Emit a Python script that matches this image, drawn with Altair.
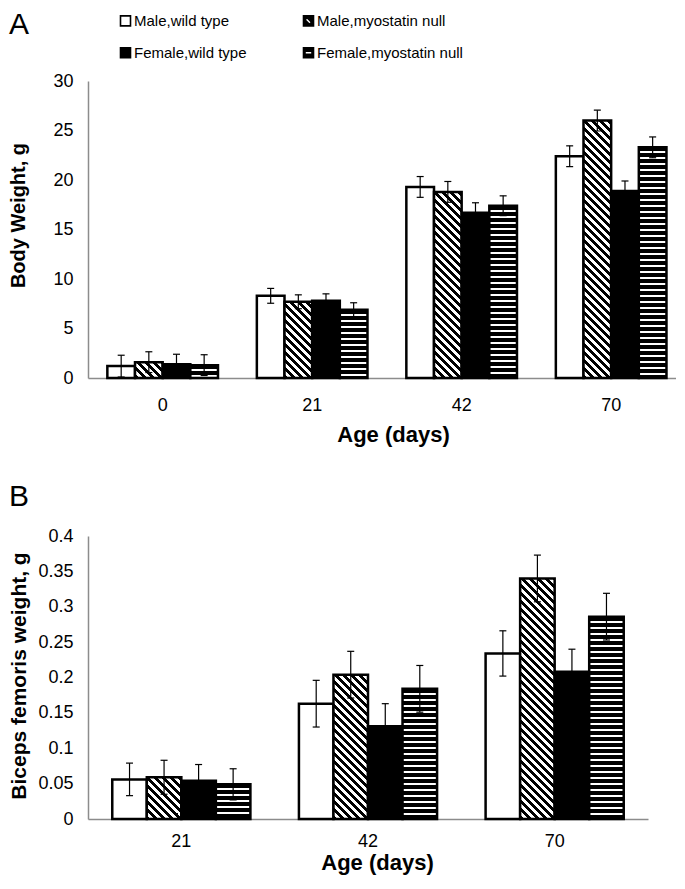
import math
import altair as alt
import pandas as pd

# ---------------- data ----------------
groups = ["Male,wild type", "Male,myostatin null", "Female,wild type", "Female,myostatin null"]

ages_a = ["0", "21", "42", "70"]
bw_male_wt = [1.2, 8.3, 19.3, 22.4]
bw_male_mn = [1.6, 7.7, 18.8, 26.0]
bw_fem_wt = [1.4, 7.8, 16.7, 18.9]
bw_fem_mn = [1.3, 6.9, 17.4, 23.3]
bw_err_male_wt = [1.1, 0.75, 1.05, 1.05]
bw_err_male_mn = [1.05, 0.7, 1.05, 1.05]
bw_err_fem_wt = [1.0, 0.7, 1.0, 1.0]
bw_err_fem_mn = [1.05, 0.7, 1.0, 1.05]

ages_b = ["21", "42", "70"]
bf_male_wt = [0.056, 0.163, 0.234]
bf_male_mn = [0.059, 0.204, 0.340]
bf_fem_wt = [0.054, 0.131, 0.208]
bf_fem_mn = [0.049, 0.184, 0.286]
bf_err_male_wt = [0.023, 0.033, 0.032]
bf_err_male_mn = [0.024, 0.033, 0.033]
bf_err_fem_wt = [0.023, 0.032, 0.032]
bf_err_fem_mn = [0.022, 0.033, 0.033]

FONT = "Liberation Sans"


def make_df(ages, series, errs):
    rows = []
    for g, vals, es in zip(groups, series, errs):
        for a, v, e in zip(ages, vals, es):
            rows.append({"age": a, "group": g, "mean": v, "err": e, "key": a + "|" + g})
    return pd.DataFrame(rows)


# ---------------- hatch patterns as hard-stop gradients ----------------
def hstripe(h, period=6.0, white=2.0):
    stops = []
    k = 0
    while k * period < h:
        a = k * period / h
        b = min((k * period + period - white) / h, 1.0)
        c = min((k + 1) * period / h, 1.0)
        stops += [{"offset": a, "color": "black"}, {"offset": b, "color": "black"},
                  {"offset": b, "color": "white"}, {"offset": c, "color": "white"}]
        k += 1
    return {"gradient": "linear", "x1": 0, "y1": 0, "x2": 0, "y2": 1, "stops": stops}


def dstripe(w, h, period=8.0, black=4.2):
    L = w + h
    a = (w + h) / (w * w + h * h)
    stops = []
    k = 0
    while k * period < L:
        s = k * period / L
        b = min((k * period + black) / L, 1.0)
        c = min((k + 1) * period / L, 1.0)
        stops += [{"offset": s, "color": "black"}, {"offset": b, "color": "black"},
                  {"offset": b, "color": "white"}, {"offset": c, "color": "white"}]
        k += 1
    return {"gradient": "linear", "x1": 0, "y1": 1, "x2": a * w, "y2": 1 - a * h, "stops": stops}


SQUARE = "M-1,-1L1,-1L1,1L-1,1Z"
DIAG = SQUARE + "M-0.288,-0.612L-0.712,-0.188L0.188,0.712L0.612,0.288Z"
HORIZ = SQUARE + "M-0.7,-0.32L-0.7,0.32L0.7,0.32L0.7,-0.32Z"

PI = 0.26


def panel(df, ages, ymax, ystep, width, height, ytitle, letter, lab_pad, title_pad,
          ytitle_pad, ytitle_size, po, align, title_dy, xtitle_x, ytitle_y, legend=False):
    step = width / (len(ages) - PI + 2 * po)
    bar_w = step * (1 - PI) / 4
    px = height / ymax
    conds = [{"test": "datum.group === 'Female,wild type'", "value": "black"}]
    for _, r in df.iterrows():
        if r["group"] == "Male,myostatin null":
            conds.append({"test": "datum.key === '%s'" % r["key"], "value": dstripe(bar_w, r["mean"] * px)})
        elif r["group"] == "Female,myostatin null":
            conds.append({"test": "datum.key === '%s'" % r["key"], "value": hstripe(r["mean"] * px)})

    yvals = [round(i * ystep, 4) for i in range(int(round(ymax / ystep)) + 1)]
    yaxis = alt.Axis(values=yvals, format="~g", title=ytitle, titleFontSize=ytitle_size,
                     titlePadding=ytitle_pad, labelPadding=15, titleY=ytitle_y)
    xaxis = alt.Axis(title="Age (days)", labelAngle=0, labelPadding=lab_pad, titlePadding=title_pad,
                     titleX=xtitle_x)
    yscale = alt.Scale(domain=[0, ymax], nice=False, zero=True)
    x = alt.X("age:N", sort=ages, scale=alt.Scale(paddingInner=PI, paddingOuter=po, align=align), axis=xaxis)
    xo = alt.XOffset("group:N", sort=groups, scale=alt.Scale(paddingInner=0, paddingOuter=0))

    base = alt.Chart(df)
    bars = base.mark_bar(stroke="black", strokeWidth=2.5).encode(
        x=x, xOffset=xo,
        y=alt.Y("mean:Q", scale=yscale, axis=yaxis),
        fill=alt.FillValue("white", condition=conds),
    )
    eb = base.transform_calculate(lo="datum.mean - datum.err", hi="datum.mean + datum.err")
    rule = eb.mark_rule(color="black", strokeWidth=1.2).encode(
        x=x, xOffset=xo, y=alt.Y("lo:Q", scale=yscale, axis=yaxis), y2="hi:Q")
    cap_hi = eb.mark_tick(color="black", thickness=1.2, size=7, orient="horizontal", opacity=1).encode(
        x=x, xOffset=xo, y=alt.Y("hi:Q", scale=yscale, axis=yaxis))
    cap_lo = eb.mark_tick(color="black", thickness=1.2, size=7, orient="horizontal", opacity=1).encode(
        x=x, xOffset=xo, y=alt.Y("lo:Q", scale=yscale, axis=yaxis))
    layers = [bars, rule, cap_hi, cap_lo]

    if legend:
        leg = alt.Legend(title=None, orient="none", legendX=30, legendY=-67.8, columns=2,
                         direction="horizontal",
                         columnPadding=53, rowPadding=15, padding=0, symbolSize=100,
                         symbolStrokeColor="black", symbolStrokeWidth=1.6, symbolOpacity=1,
                         labelFont=FONT, labelFontSize=15, labelColor="black", labelOffset=1,
                         labelLimit=400)
        pts = base.transform_filter("false").mark_point(filled=True, opacity=1, strokeWidth=1.6).encode(
            x=x, y=alt.Y("mean:Q", scale=yscale, axis=yaxis),
            fill=alt.Fill("group:N", scale=alt.Scale(domain=groups, range=["white", "black", "black", "black"]),
                          legend=leg),
            stroke=alt.Stroke("group:N", scale=alt.Scale(domain=groups, range=["black", "black", "black", "black"]),
                              legend=leg),
            shape=alt.Shape("group:N", scale=alt.Scale(domain=groups, range=[SQUARE, DIAG, SQUARE, HORIZ]),
                            legend=leg),
        )
        layers.append(pts)

    return alt.layer(*layers).properties(
        width=width, height=height,
        title=alt.TitleParams(letter, anchor="start", frame="bounds", fontSize=30, font=FONT,
                              fontWeight="normal", color="black", dy=title_dy),
    )


df_a = make_df(ages_a, [bw_male_wt, bw_male_mn, bw_fem_wt, bw_fem_mn],
               [bw_err_male_wt, bw_err_male_mn, bw_err_fem_wt, bw_err_fem_mn])
df_b = make_df(ages_b, [bf_male_wt, bf_male_mn, bf_fem_wt, bf_fem_mn],
               [bf_err_male_wt, bf_err_male_mn, bf_err_fem_wt, bf_err_fem_mn])

pa = panel(df_a, ages_a, 30, 5, 588, 297, "Body Weight, g", "A", 18, 10, 24, 20,
           po=0.0966, align=0.67, title_dy=-28, xtitle_x=305, ytitle_y=134, legend=True)
pb = panel(df_b, ages_b, 0.4, 0.05, 560, 283, "Biceps femoris weight, g", "B", 13, 2, 8, 21,
           po=0.13, align=0.5, title_dy=-11, xtitle_x=289, ytitle_y=139.5)

chart = alt.vconcat(pa, pb, spacing=37).resolve_scale(
    x="independent", xOffset="independent", y="independent"
).properties(
    padding={"left": 0, "top": 2, "right": 0, "bottom": 6}
).configure_view(stroke=None).configure_axis(
    labelFont=FONT, labelFontSize=18, labelColor="black",
    titleFont=FONT, titleFontSize=22, titleFontWeight="bold", titleColor="black",
    domainColor="#8c8c8c", domainWidth=1.5, ticks=False, tickSize=0, grid=False,
)

chart.save("out.html", embed_options={"renderer": "svg", "actions": False})
